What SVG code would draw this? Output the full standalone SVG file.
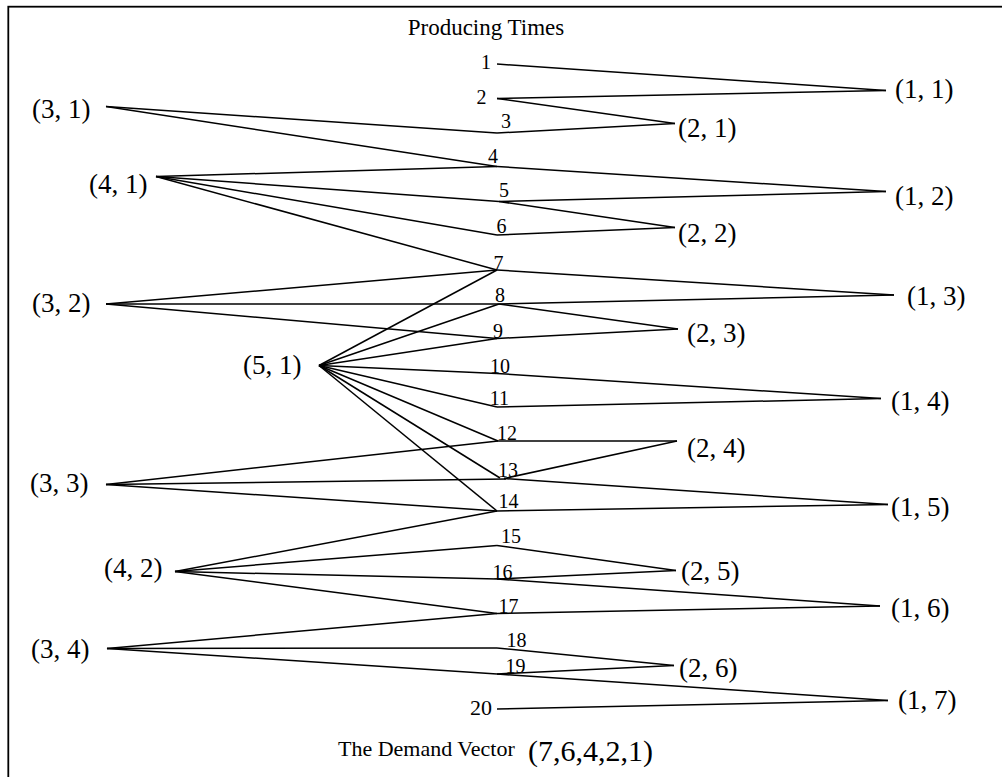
<svg xmlns="http://www.w3.org/2000/svg" width="1002" height="777" viewBox="0 0 1002 777">
<style>
text{font-family:"Liberation Serif","Times New Roman",serif;fill:#000}
.n{font-size:27px}
.p{font-size:20px;text-anchor:middle}
.t{font-size:23px;text-anchor:middle}
#connectors line{stroke:#000;stroke-width:1.5;fill:none}
</style>
<rect x="0" y="0" width="1002" height="777" fill="#fff"/>
<rect x="8.3" y="6.7" width="1010" height="800" fill="none" stroke="#000" stroke-width="1.8"/>
<text class="t" x="486" y="35">Producing Times</text>
<g id="connectors">
<line x1="497" y1="64" x2="886" y2="90.5"/>
<line x1="497" y1="98.5" x2="886" y2="90.5"/>
<line x1="497" y1="98.5" x2="675" y2="123.5"/>
<line x1="106" y1="106.5" x2="497" y2="133"/>
<line x1="497" y1="133" x2="675" y2="123.5"/>
<line x1="106" y1="106.5" x2="497" y2="166.5"/>
<line x1="497" y1="166.5" x2="886" y2="191.5"/>
<line x1="156" y1="176.5" x2="497" y2="166.5"/>
<line x1="156" y1="176.5" x2="499" y2="201.5"/>
<line x1="499" y1="201.5" x2="886" y2="191.5"/>
<line x1="499" y1="201.5" x2="675" y2="227.5"/>
<line x1="156" y1="176.5" x2="497" y2="235"/>
<line x1="497" y1="235" x2="675" y2="227.5"/>
<line x1="156" y1="176.5" x2="497" y2="270"/>
<line x1="497" y1="270" x2="894" y2="295"/>
<line x1="106" y1="304" x2="497" y2="270"/>
<line x1="319" y1="365.5" x2="497" y2="270"/>
<line x1="106" y1="304" x2="499" y2="304"/>
<line x1="499" y1="304" x2="894" y2="295"/>
<line x1="499" y1="304" x2="678" y2="329"/>
<line x1="319" y1="365.5" x2="499" y2="304"/>
<line x1="106" y1="304" x2="497" y2="338.5"/>
<line x1="497" y1="338.5" x2="678" y2="329"/>
<line x1="319" y1="365.5" x2="497" y2="338.5"/>
<line x1="319" y1="365.5" x2="497" y2="373.5"/>
<line x1="497" y1="373.5" x2="881" y2="398.5"/>
<line x1="319" y1="365.5" x2="497" y2="407"/>
<line x1="497" y1="407" x2="881" y2="398.5"/>
<line x1="319" y1="365.5" x2="498" y2="441"/>
<line x1="498" y1="441" x2="677" y2="441"/>
<line x1="106" y1="484.5" x2="498" y2="441"/>
<line x1="319" y1="365.5" x2="500" y2="478"/>
<line x1="106" y1="484.5" x2="506" y2="479"/>
<line x1="504" y1="478.5" x2="677" y2="441"/>
<line x1="504" y1="478.5" x2="888" y2="504.5"/>
<line x1="319" y1="365.5" x2="497" y2="511"/>
<line x1="106" y1="484.5" x2="497" y2="511"/>
<line x1="497" y1="511" x2="888" y2="504.5"/>
<line x1="175" y1="571.5" x2="497" y2="511"/>
<line x1="175" y1="571.5" x2="497" y2="545.5"/>
<line x1="497" y1="545.5" x2="676" y2="570.5"/>
<line x1="175" y1="571.5" x2="497" y2="579"/>
<line x1="497" y1="579" x2="676" y2="570.5"/>
<line x1="497" y1="579" x2="880" y2="606"/>
<line x1="175" y1="571.5" x2="497" y2="613.5"/>
<line x1="497" y1="613.5" x2="880" y2="606"/>
<line x1="107" y1="648.5" x2="497" y2="613.5"/>
<line x1="107" y1="648.5" x2="497" y2="648"/>
<line x1="497" y1="648" x2="674" y2="665.5"/>
<line x1="107" y1="648.5" x2="497" y2="674"/>
<line x1="497" y1="674" x2="674" y2="665.5"/>
<line x1="497" y1="674" x2="888" y2="700.5"/>
<line x1="497" y1="709" x2="888" y2="700.5"/>
</g>
<g id="t1"><text class="p" x="486" y="69">1</text></g>
<g id="t2"><text class="p" x="481.5" y="104">2</text></g>
<g id="t3"><text class="p" x="506" y="128">3</text></g>
<g id="t4"><text class="p" x="493" y="163">4</text></g>
<g id="t5"><text class="p" x="504" y="197">5</text></g>
<g id="t6"><text class="p" x="501.5" y="233">6</text></g>
<g id="t7"><text class="p" x="498.5" y="270">7</text></g>
<g id="t8"><text class="p" x="500" y="301.5">8</text></g>
<g id="t9"><text class="p" x="498" y="338">9</text></g>
<g id="t10"><text class="p" x="500" y="372.5">10</text></g>
<g id="t11"><text class="p" x="499.5" y="405">11</text></g>
<g id="t12"><text class="p" x="507" y="440">12</text></g>
<g id="t13"><text class="p" x="508" y="476.5">13</text></g>
<g id="t14"><text class="p" x="508.5" y="507.5">14</text></g>
<g id="t15"><text class="p" x="511" y="543">15</text></g>
<g id="t16"><text class="p" x="502.5" y="579">16</text></g>
<g id="t17"><text class="p" x="508.5" y="612.5">17</text></g>
<g id="t18"><text class="p" x="516.5" y="646.5">18</text></g>
<g id="t19"><text class="p" x="515.5" y="672.5">19</text></g>
<g id="t20"><text class="p" x="481" y="715" style="font-size:22px">20</text></g>
<g id="n11"><text class="n" x="895" y="98">(1, 1)</text></g>
<g id="n21"><text class="n" x="678" y="137">(2, 1)</text></g>
<g id="n31"><text class="n" x="32" y="118">(3, 1)</text></g>
<g id="n41"><text class="n" x="89" y="193">(4, 1)</text></g>
<g id="n12"><text class="n" x="895" y="205">(1, 2)</text></g>
<g id="n22"><text class="n" x="678" y="242">(2, 2)</text></g>
<g id="n32"><text class="n" x="32" y="312">(3, 2)</text></g>
<g id="n13"><text class="n" x="907" y="305">(1, 3)</text></g>
<g id="n23"><text class="n" x="687" y="342">(2, 3)</text></g>
<g id="n51"><text class="n" x="243" y="374">(5, 1)</text></g>
<g id="n14"><text class="n" x="891" y="410">(1, 4)</text></g>
<g id="n24"><text class="n" x="687" y="457">(2, 4)</text></g>
<g id="n33"><text class="n" x="30" y="492">(3, 3)</text></g>
<g id="n15"><text class="n" x="891" y="516">(1, 5)</text></g>
<g id="n42"><text class="n" x="104" y="577">(4, 2)</text></g>
<g id="n25"><text class="n" x="681" y="580">(2, 5)</text></g>
<g id="n16"><text class="n" x="891" y="617">(1, 6)</text></g>
<g id="n34"><text class="n" x="31" y="658">(3, 4)</text></g>
<g id="n26"><text class="n" x="679" y="677">(2, 6)</text></g>
<g id="n17"><text class="n" x="898" y="709">(1, 7)</text></g>
<text x="338" y="756" style="font-size:22px">The Demand Vector</text>
<text x="528" y="761" style="font-size:30px">(7,6,4,2,1)</text>
</svg>
